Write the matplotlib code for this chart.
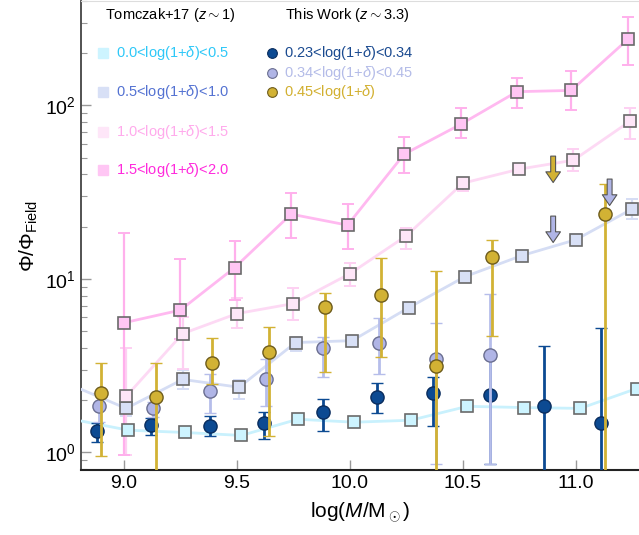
import numpy as np
import matplotlib
matplotlib.use('Agg')
import matplotlib.pyplot as plt

plt.rcParams['font.family'] = ['Liberation Sans', 'DejaVu Sans']
plt.rcParams['mathtext.fontset'] = 'custom'
plt.rcParams['mathtext.rm'] = 'Liberation Sans'
plt.rcParams['mathtext.it'] = 'Liberation Sans:italic'
plt.rcParams['mathtext.bf'] = 'Liberation Sans:bold'

# Tomczak+17 (z~1), squares + lines
t1_x = [8.77, 9.02, 9.27, 9.52, 9.77, 10.02, 10.27, 10.52, 10.77, 11.02, 11.27]
t1_y = [1.55, 1.34, 1.30, 1.25, 1.55, 1.49, 1.53, 1.84, 1.81, 1.79, 2.33]

t2_x = [8.76, 9.01, 9.26, 9.51, 9.76, 10.01, 10.26, 10.51, 10.76, 11.00, 11.25]
t2_y = [2.46, 1.79, 2.63, 2.37, 4.29, 4.40, 6.81, 10.3, 13.6, 16.8, 25.3]
t2_lo = [2.30, 1.62, 2.33, 2.04, 3.85, 4.10, 6.40, 9.6, 12.8, 15.6, 22.0]
t2_hi = [2.65, 1.98, 2.98, 2.60, 4.60, 4.70, 7.30, 11.1, 14.6, 18.2, 29.0]

t3_x = [9.01, 9.26, 9.50, 9.75, 10.00, 10.25, 10.50, 10.75, 10.99, 11.24]
t3_y = [2.10, 4.83, 6.3, 7.2, 10.7, 17.7, 35.6, 42.9, 48.3, 81.0]
t3_lo = [0.96, 3.04, 5.2, 5.8, 9.1, 14.9, 32.0, 40.0, 42.0, 64.0]
t3_hi = [4.0, 6.0, 7.8, 8.9, 12.3, 19.6, 38.0, 46.0, 56.0, 96.0]

t4_x = [9.00, 9.25, 9.49, 9.74, 9.99, 10.24, 10.49, 10.74, 10.98, 11.23]
t4_y = [5.58, 6.6, 11.6, 23.6, 20.4, 52.3, 77.7, 120.0, 122.0, 240.0]
t4_lo = [0.96, 4.5, 7.5, 17.2, 14.9, 41.0, 64.5, 96.0, 94.0, 172.0]
t4_hi = [18.4, 13.0, 16.5, 31.2, 27.0, 66.0, 96.0, 143.0, 157.0, 325.0]

# This work (z~3.3), circles
a_x = [8.88, 9.12, 9.38, 9.62, 9.88, 10.12, 10.37, 10.62, 10.86, 11.11]
a_y = [1.32, 1.43, 1.41, 1.47, 1.70, 2.07, 2.21, 2.15, 1.84, 1.47]
a_lo = [1.14, 1.25, 1.24, 1.20, 1.32, 1.68, 1.41, 0.86, 0.5, 0.5]
a_hi = [1.47, 1.57, 1.61, 1.70, 2.04, 2.52, 2.73, 3.5, 4.12, 5.2]

b_x = [8.89, 9.13, 9.38, 9.63, 9.88, 10.13, 10.38, 10.62]
b_y = [1.86, 1.79, 2.27, 2.63, 4.01, 4.29, 3.47, 3.66]
b_lo = [1.5, 1.6, 1.68, 1.86, 2.70, 2.84, 0.86, 0.86]
b_hi = [2.2, 1.95, 2.84, 3.47, 4.64, 5.95, 5.57, 8.2]
b_lim_x = [10.90, 11.15]
b_lim_y = [23.0, 37.6]

c_x = [8.90, 9.14, 9.39, 9.64, 9.89, 10.14, 10.38, 10.63, 11.13]
c_y = [2.21, 2.07, 3.29, 3.76, 6.9, 8.1, 3.16, 13.4, 23.6]
c_lo = [0.95, 0.5, 2.49, 1.24, 2.92, 3.52, 0.5, 4.7, 0.5]
c_hi = [3.29, 3.29, 4.58, 5.30, 8.3, 13.2, 11.1, 16.7, 35.0]
c_lim_x = [10.90]
c_lim_y = [51.0]

tom_labels = [r'0.0<log(1+$\delta$)<0.5', r'0.5<log(1+$\delta$)<1.0',
              r'1.0<log(1+$\delta$)<1.5', r'1.5<log(1+$\delta$)<2.0']
work_labels = [r'0.23<log(1+$\delta$)<0.34', r'0.34<log(1+$\delta$)<0.45',
               r'0.45<log(1+$\delta$)']

tom_line = ['#c9f1fd', '#d5ddf4', '#fdd9f4', '#ffb9f0']
tom_face = ['#cdf4ff', '#d8e0f6', '#fee6f8', '#ffc6f4']
tom_err = ['#c9f1fd', '#d5ddf4', '#fdd0f2', '#ffb0ec']
tom_text = ['#2ec8f8', '#5472d2', '#ffaaec', '#ff2adc']
work_face = ['#0c4a92', '#b0b5e6', '#d2b234']
work_edge = ['#0a2d5e', '#6a6e90', '#6e5c1c']
work_err = ['#0c4a92', '#b6bdea', '#d2b234']
work_text = ['#1a4a90', '#b4bce8', '#d2b030']

fig = plt.figure(figsize=(6.39, 5.35), dpi=100)
ax = fig.add_axes([81/639, 65/535, 558/639, 469/535])

tom = [(t1_x, t1_y, None, None), (t2_x, t2_y, t2_lo, t2_hi),
       (t3_x, t3_y, t3_lo, t3_hi), (t4_x, t4_y, t4_lo, t4_hi)]
for i, (x, y, lo, hi) in enumerate(tom):
    x = np.array(x); y = np.array(y)
    if lo is not None:
        yerr = [y - np.array(lo), np.array(hi) - y]
        ax.errorbar(x, y, yerr=yerr, fmt='none', ecolor=tom_err[i], elinewidth=1.6,
                    capsize=4, capthick=1.4, zorder=2)
    ax.plot(x, y, '-', color=tom_line[i], lw=2.0, zorder=3)
    ax.plot(x, y, 's', ms=9, mfc=tom_face[i], mec='#6a6a6a', mew=1.2, zorder=4)

work = [(a_x, a_y, a_lo, a_hi), (b_x, b_y, b_lo, b_hi), (c_x, c_y, c_lo, c_hi)]
for i, (x, y, lo, hi) in enumerate(work):
    x = np.array(x); y = np.array(y)
    yerr = [y - np.array(lo), np.array(hi) - y]
    ax.errorbar(x, y, yerr=yerr, fmt='o', ms=9.5, mfc=work_face[i], mec=work_edge[i], mew=1.0,
                ecolor=work_err[i], elinewidth=2.0, capsize=4, capthick=1.6, zorder=5 + i * 0.1)

for xs, ys, fc in [(b_lim_x, b_lim_y, work_face[1]), (c_lim_x, c_lim_y, work_face[2])]:
    for x, y in zip(xs, ys):
        ax.annotate('', xy=(x, y / 1.42), xytext=(x, y),
                    arrowprops=dict(arrowstyle='simple,head_length=0.55,head_width=0.75,tail_width=0.25',
                                    fc=fc, ec='#555555', lw=0.8, mutation_scale=14, shrinkA=0, shrinkB=0),
                    zorder=6)

ax.set_yscale('log')
ax.set_xlim(8.81, 11.28)
ax.set_ylim(0.79, 400)
ax.set_xticks([9.0, 9.5, 10.0, 10.5, 11.0])
ax.set_xticklabels(['9.0', '9.5', '10.0', '10.5', '11.0'])
ax.tick_params(axis='both', which='both', direction='in', color='#999999', labelsize=14)
ax.tick_params(axis='both', which='major', length=7, width=1)
ax.tick_params(axis='y', which='minor', length=4, width=0.8)
ax.spines['right'].set_visible(False)
ax.spines['top'].set_color('#dddddd')
ax.spines['left'].set_color('#444444')
ax.spines['bottom'].set_color('#222222')
ax.spines['left'].set_linewidth(1.3)
ax.spines['bottom'].set_linewidth(1.5)
ax.set_xlabel(r'log($M$/M$_\odot$)', fontsize=15, labelpad=6)
ax.set_ylabel(r'$\Phi/\Phi_{\rm Field}$', fontsize=15, labelpad=4)

# legend drawn by hand
W, H = 639.0, 535.0
fig.text(105 / W, 1 - 15 / H, r'Tomczak+17 ($z\sim1$)', fontsize=10.5, va='center', ha='left')
fig.text(285 / W, 1 - 15 / H, r'This Work ($z\sim3.3$)', fontsize=10.5, va='center', ha='left')
for i, py in enumerate([53, 92, 132, 170]):
    fig.lines.append(plt.Line2D([103 / W], [1 - py / H], marker='s', ms=7, color=tom_face[i],
                                mec=tom_face[i], transform=fig.transFigure))
    fig.text(116 / W, 1 - py / H, tom_labels[i], color=tom_text[i], fontsize=10.5, va='center')
for i, py in enumerate([53, 73, 92]):
    fig.lines.append(plt.Line2D([272 / W], [1 - py / H], marker='o', ms=7, color=work_face[i],
                                mec=work_edge[i], mew=0.8, transform=fig.transFigure))
    fig.text(284 / W, 1 - py / H, work_labels[i], color=work_text[i], fontsize=10.5, va='center')

plt.savefig('out.png', dpi=100)
plt.close('all')
